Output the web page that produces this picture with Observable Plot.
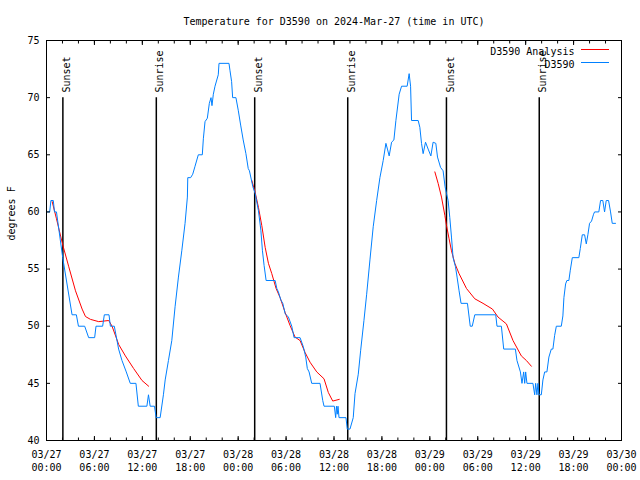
<!DOCTYPE html>
<html><head><meta charset="utf-8">
<script src="https://cdn.jsdelivr.net/npm/d3@7"></script>
<script src="https://cdn.jsdelivr.net/npm/@observablehq/plot@0.6"></script>
<style>
body{margin:0;background:#fff;}
</style></head><body><div id="chart"></div>
<script>
const titleText = "Temperature for D3590 on 2024-Mar-27 (time in UTC)";
const yLabel = "degrees F";
const seriesNames = ["D3590 Analysis", "D3590"];
const seriesColors = ["#ff0000", "#0080ff"];

// hours since 2024-03-27 00:00 UTC
const blueHours = [0,0.4,0.55,0.85,1.0,1.25,2.03,3.2,3.74,4.0,4.78,5.28,6.03,6.2,7.03,7.24,7.83,8.0,8.49,9.03,9.45,9.99,10.49,11.2,11.5,12.57,12.77,12.98,13.52,13.73,14.23,
14.64,14.86,15.27,15.69,16.1,16.52,16.94,17.35,17.64,17.69,18.05,18.31,18.6,19.01,19.51,19.64,19.85,20.14,20.39,20.6,20.72,20.89,21.1,21.51,21.6,22.85,22.97,23.18,23.31,23.72,24.01,24.31,24.63,24.97,25.26,
25.41,25.84,26.13,26.54,26.84,27.04,27.25,27.5,28.63,28.84,29.04,29.34,29.59,29.88,30.29,30.71,31.0,31.75,32.16,32.46,32.66,32.88,33.21,34.25,34.59,34.75,36.04,36.21,36.31,36.41,36.5,36.63,37.5,37.66,38.0,38.41,
38.63,39.04,39.34,39.75,40.09,40.5,40.91,41.34,41.75,42.16,42.5,42.69,42.91,43.21,43.5,43.75,44.16,44.46,45.16,45.41,45.59,45.71,46.54,46.75,46.96,47.16,47.46,47.79,48.13,48.41,48.75,48.96,49.34,49.66,49.91,50.09,50.29,
50.5,50.71,50.91,51.21,51.41,51.66,51.91,52.71,53.06,53.31,53.63,56.25,56.41,56.96,57.25,58.71,58.91,59.34,59.54,59.75,59.88,60.0,60.16,60.91,61.13,61.25,61.41,61.54,61.66,61.96,
62.16,62.38,62.66,62.91,63.21,63.41,63.63,63.84,64.46,64.66,64.79,65.0,65.16,65.41,65.59,65.84,66.66,66.84,67.09,67.38,67.59,67.79,68.0,68.25,68.5,68.63,69.16,69.38,69.66,69.88,70.09,70.38,70.63,70.84,71.25];
const blueTemps = [60,60,61,61,60,60,56,51,51,50,50,49,49,50,50,51,51,50,50,48,47,46,45,45,43,43,44,43,43,42,42,
44,45.3,47,48.75,51.7,54.3,56.6,59,61.3,63,63,63.3,64,65,65,66.4,67.9,68.2,69.5,70,69.3,70.3,71,72,73,73,72.4,71.4,70,70,68.9,67.6,66.3,65.1,63.8,
63.6,62.2,61.6,60.1,58.4,56.6,55.3,54,54,53.3,53,52.3,52,51.1,50.8,50,49,49,48.2,47.3,46.3,46,45,45,43.5,43,43,42,43,42.3,43,42,42,41,41,42,
44.1,45.8,47.9,50.5,52.8,55.8,58.7,61,63,64.5,66,65.5,64.9,66.1,66.3,68,70.3,71,71,72.1,71,68,68,67.4,66,65.1,66.1,65.5,64.9,66.1,66,64.8,63.9,63.6,62.2,61.6,61,
59.5,57.8,56,55.2,54.3,53.1,52,52,50,50,51,51,50,50,48,48,47,46,45,46,45,46,45,45,44,45,44,45,44,44,
45.3,46,46,47.3,48,48,49.2,50,50,50.9,52.5,53.7,54,54,54.9,56,56,56.8,58,58,57.2,58,59,59.2,59.8,60,60,61,61,60,61,61,60,59,59];

const redSegment = [1,1,1,1,1,1,1,1,1,1,1,1,1,1,1,1,
2,2,2,2,2,2,2,2,2,2,2,2,2,2,2,2,2,2,2,2,
3,3,3,3,3,3,3,3,3,3,3,3,3,3,3,3,3,3,3];
const redHours = [0.71,1.25,2.04,2.79,3.63,4.46,4.88,5.5,6.54,7.79,8.21,9.04,9.88,10.91,11.96,12.79,
25.71,26.13,26.54,26.96,27.38,27.79,28.21,28.75,29.25,29.88,30.5,31.13,31.75,32.38,33.0,33.84,34.75,35.29,35.84,36.66,
48.63,49.04,49.46,49.88,50.09,50.41,50.71,51.13,51.66,52.59,53.63,54.66,55.84,56.54,57.59,58.41,59.46,60.09,60.71];
const redTemps = [60.9,59.4,57.1,55.2,53.1,51.5,50.85,50.6,50.4,50.5,50.0,48.4,47.4,46.3,45.25,44.75,
62.75,61.7,60.4,58.8,56.9,55.5,54.6,53.3,52.5,51.2,50.06,49.04,48.75,47.7,46.85,46.0,45.4,44.2,43.45,43.6,
63.5,62.5,61.3,59.7,58.8,57.65,56.6,55.5,54.6,53.3,52.4,52.0,51.5,50.8,50.2,48.75,47.4,47.0,46.5];

const eventHours = [2.05, 13.75, 26.07, 37.72, 50.08, 61.7];
const eventLabels = ["Sunset", "Sunrise", "Sunset", "Sunrise", "Sunset", "Sunrise"];

const yTicks = [40, 45, 50, 55, 60, 65, 70, 75];
const xMajorHours = [0, 6, 12, 18, 24, 30, 36, 42, 48, 54, 60, 66, 72];
const xMinorHours = d3.range(0, 73, 2);

const start = Date.UTC(2024, 2, 27);
const toDate = h => new Date(start + h * 3600e3);

const blue = blueHours.map((h, i) => ({t: toDate(h), v: blueTemps[i]}));
const red = redHours.map((h, i) => ({t: toDate(h), v: redTemps[i], seg: redSegment[i]}));
const events = eventHours.map((h, i) => ({t: toDate(h), label: eventLabels[i]}));
const xMajor = xMajorHours.map(toDate);
const xMinor = xMinorHours.map(toDate);

const font = "'DejaVu Sans Mono', monospace";

const chart = Plot.plot({
  width: 640, height: 480,
  marginLeft: 46, marginRight: 19, marginTop: 40, marginBottom: 40,
  style: {fontFamily: font, fontSize: "10px", background: "white", color: "black", overflow: "visible"},
  x: {type: "utc", domain: [toDate(0), toDate(72)]},
  y: {domain: [40, 75]},
  marks: [
    Plot.ruleX(events, {x: "t", y1: 40, y2: 70, stroke: "black", strokeWidth: 1.5}),
    Plot.text(events, {x: "t", text: "label", frameAnchor: "top", dy: 52, rotate: -90, textAnchor: "start", fill: "black"}),
    Plot.line(red, {x: "t", y: "v", z: "seg", stroke: seriesColors[0], strokeWidth: 1}),
    Plot.line(blue, {x: "t", y: "v", stroke: seriesColors[1], strokeWidth: 1}),
    Plot.axisX(xMajor, {anchor: "bottom", tickSize: 0, tickPadding: 8, tickFormat: d3.utcFormat("%m/%d\n%H:%M"), lineHeight: 1.3, label: null}),
    Plot.axisX(xMajor, {anchor: "bottom", tickSize: 4, dy: -4, fill: "none", label: null}),
    Plot.axisX(xMajor, {anchor: "top", tickSize: 4, dy: 4, fill: "none", label: null}),
    Plot.axisX(xMinor, {anchor: "bottom", tickSize: 2.5, dy: -2.5, fill: "none", label: null}),
    Plot.axisX(xMinor, {anchor: "top", tickSize: 2.5, dy: 2.5, fill: "none", label: null}),
    Plot.axisY(yTicks, {anchor: "left", tickSize: 0, tickPadding: 7, label: null}),
    Plot.axisY(yTicks, {anchor: "left", tickSize: 4, dx: 4, fill: "none", label: null}),
    Plot.axisY(yTicks, {anchor: "right", tickSize: 4, dx: -4, fill: "none", label: null}),
    Plot.frame({stroke: "black"}),
    Plot.text([yLabel], {frameAnchor: "left", dx: -35, rotate: -90, fill: "black"}),
    Plot.text([titleText], {frameAnchor: "top", dy: -23, fill: "black"}),
    Plot.text([seriesNames[0]], {frameAnchor: "top-right", dx: -47, dy: 7.5, textAnchor: "end", fill: "black"}),
    Plot.text([seriesNames[1]], {frameAnchor: "top-right", dx: -47, dy: 20.5, textAnchor: "end", fill: "black"})
  ]
});

const svg = d3.select(chart);
[[49.5, 0], [62.5, 1]].forEach(([yy, i]) => {
  svg.append("line").attr("x1", 581).attr("x2", 609).attr("y1", yy).attr("y2", yy)
    .attr("stroke", seriesColors[i]).attr("stroke-width", 1);
});
document.getElementById("chart").appendChild(chart);
</script>
</body></html>
